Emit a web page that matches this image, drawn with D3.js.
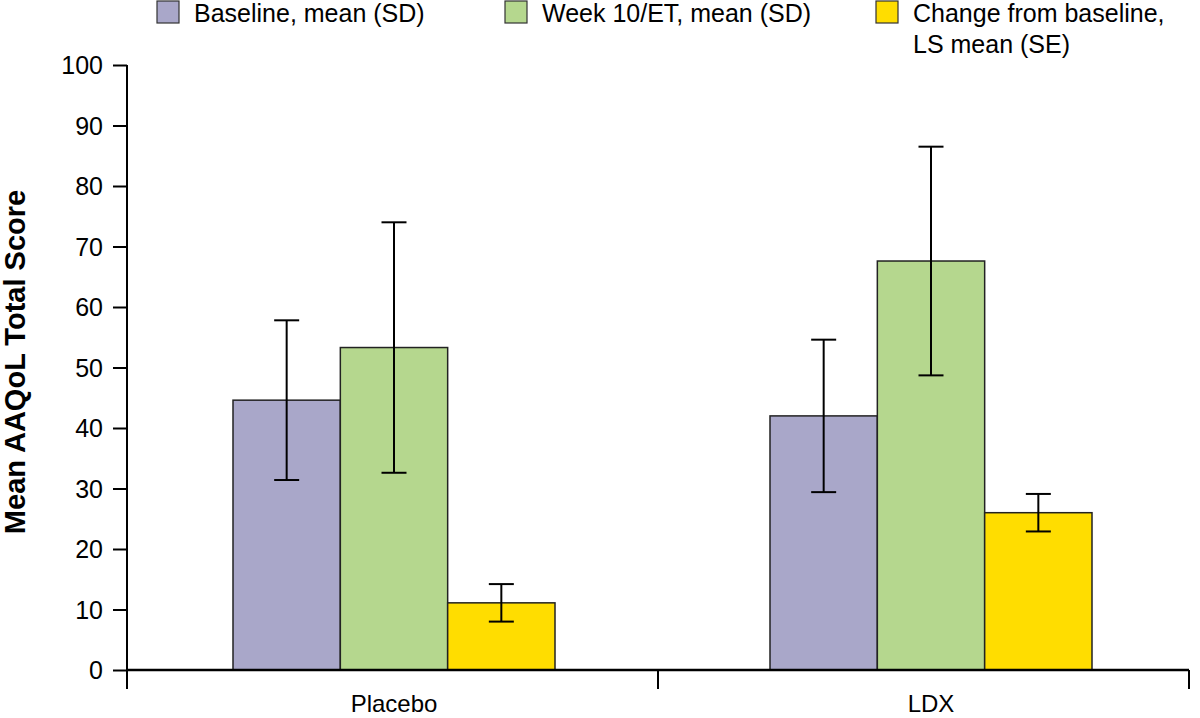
<!DOCTYPE html>
<html><head><meta charset="utf-8">
<script src="https://cdn.jsdelivr.net/npm/d3@7"></script>
<style>body{margin:0;background:#fff}svg{display:block}text{font-family:"Liberation Sans",Arial,sans-serif}</style>
</head><body><svg id="c" width="1200" height="718"></svg>
<script>
const categories = ["Placebo", "LDX"];
const seriesNames = ["Baseline, mean (SD)", "Week 10/ET, mean (SD)", "Change from baseline, LS mean (SE)"];
const baselineMean = [44.6, 42.0];
const baselineSD = [13.2, 12.6];
const week10Mean = [53.3, 67.6];
const week10SD = [20.7, 18.9];
const changeMean = [11.1, 26.0];
const changeSE = [3.1, 3.1];
const yTicks = [0, 10, 20, 30, 40, 50, 60, 70, 80, 90, 100];
const colors = ["#a9a7c9", "#b5d78e", "#ffdd00"];

(function () {
const series = [
  {name: seriesNames[0], mean: baselineMean, err: baselineSD},
  {name: seriesNames[1], mean: week10Mean, err: week10SD},
  {name: seriesNames[2], mean: changeMean, err: changeSE}
];
const FONT = "Liberation Sans, Arial, sans-serif";
const svg = d3.select("#c");
const mLeft = 127, mRight = 1189, mTop = 65, mBottom = 670;

const y = d3.scaleLinear().domain([0, 100]).range([mBottom, mTop]);
const x0 = d3.scaleBand().domain(categories).range([mLeft, mRight]).padding(0);
const groupCenter = d3.scalePoint().domain(categories).range([394, 931]);
const x1 = d3.scaleBand().domain(d3.range(series.length)).range([-161, 161]).padding(0);

// y axis
const yAxis = svg.append("g").attr("transform", `translate(${mLeft},0)`)
  .call(d3.axisLeft(y).tickValues(yTicks).tickSize(14).tickPadding(10));
yAxis.select(".domain").remove();
yAxis.selectAll(".tick line").attr("stroke", "#000").attr("stroke-width", 2);
yAxis.selectAll(".tick text").attr("font-size", 25).attr("fill", "#000").attr("font-family", FONT).attr("dy", "0.35em");
svg.append("line").attr("x1", mLeft).attr("x2", mLeft).attr("y1", mTop).attr("y2", mBottom + 19)
  .attr("stroke", "#000").attr("stroke-width", 2);

// y title
svg.append("text").attr("transform", `translate(25,362) rotate(-90)`)
  .attr("text-anchor", "middle").attr("font-size", 29).attr("font-weight", "bold")
  .text("Mean AAQoL Total Score");

// bars
const g = svg.append("g");
categories.forEach((c, ci) => {
  series.forEach((s, si) => {
    const bx = groupCenter(c) + x1(si);
    g.append("rect").attr("x", bx).attr("y", y(s.mean[ci]))
      .attr("width", x1.bandwidth()).attr("height", y(0) - y(s.mean[ci]))
      .attr("fill", colors[si]).attr("stroke", "#222").attr("stroke-width", 1.5);
  });
});
// error bars
categories.forEach((c, ci) => {
  series.forEach((s, si) => {
    const cx = groupCenter(c) + x1(si) + x1.bandwidth() / 2;
    const hi = y(s.mean[ci] + s.err[ci]), lo = y(s.mean[ci] - s.err[ci]);
    g.append("line").attr("x1", cx).attr("x2", cx).attr("y1", hi).attr("y2", lo)
      .attr("stroke", "#000").attr("stroke-width", 2);
    [hi, lo].forEach(v => g.append("line").attr("x1", cx - 12.5).attr("x2", cx + 12.5)
      .attr("y1", v).attr("y2", v).attr("stroke", "#000").attr("stroke-width", 2));
  });
});

// x axis
const xAxis = svg.append("g").attr("transform", `translate(0,${mBottom})`)
  .call(d3.axisBottom(x0).tickSize(0).tickPadding(25));
xAxis.select(".domain").attr("stroke", "#000").attr("stroke-width", 2.5).attr("d", `M${mLeft},0H${mRight}`);
xAxis.selectAll(".tick text").attr("font-size", 24).attr("fill", "#000").attr("font-family", FONT)
  .attr("x", (d) => groupCenter(d) - (x0(d) + x0.bandwidth() / 2));
const boundaries = [x0.range()[0], ...categories.slice(1).map(c => x0(c)), x0.range()[1]];
xAxis.selectAll(".bnd").data(boundaries).enter().append("line")
  .attr("x1", d => d).attr("x2", d => d).attr("y1", 0).attr("y2", 19)
  .attr("stroke", "#000").attr("stroke-width", 2);

// legend
const legX = [157, 505, 876];
const leg = svg.append("g");
series.forEach((s, i) => {
  leg.append("rect").attr("x", legX[i]).attr("y", 1).attr("width", 22).attr("height", 22)
    .attr("fill", colors[i]).attr("stroke", "#333").attr("stroke-width", 1.2);
  const t = leg.append("text").attr("x", legX[i] + 37).attr("y", 22).attr("font-size", 25);
  if (i === 2) {
    t.append("tspan").text("Change from baseline,");
    t.append("tspan").attr("x", legX[i] + 37).attr("dy", 31).text("LS mean (SE)");
  } else t.text(s.name);
});
})();
</script></body></html>
